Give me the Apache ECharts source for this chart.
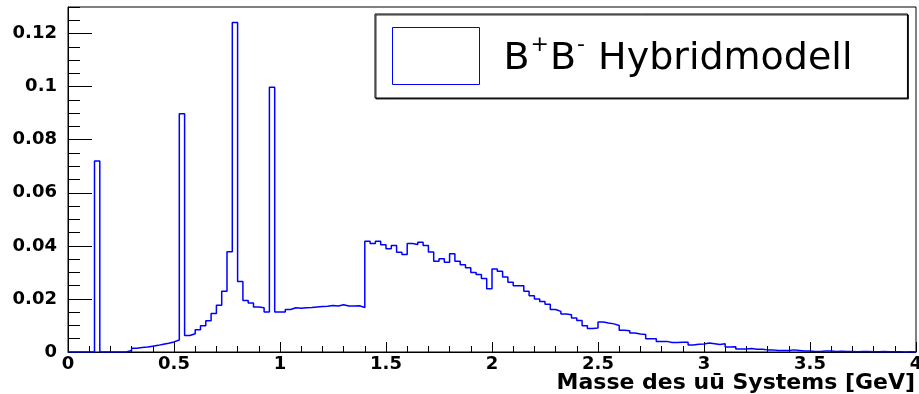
<!DOCTYPE html>
<html>
<head>
<meta charset="utf-8">
<script src="https://cdn.jsdelivr.net/npm/echarts@6/dist/echarts.min.js"></script>
<style>html,body{margin:0;padding:0;background:#fff}#c{width:919px;height:394px}</style>
</head>
<body>
<div id="c"></div>
<script>
// Histogram: 160 bins of width 0.025 GeV from 0 to 4
const binLow = 0;
const binWidth = 0.025;
const counts = [
  0, 0, 0, 0, 0, 0.072, 0, 0, 0, 0,
  0, 0.0006, 0.0014, 0.0017, 0.0019, 0.0022, 0.0025, 0.0029, 0.0033, 0.0038,
  0.0045, 0.0898, 0.0062, 0.0069, 0.0084, 0.0099, 0.0118, 0.0145, 0.0176, 0.0229,
  0.0378, 0.1242, 0.0266, 0.0194, 0.0185, 0.0170, 0.0167, 0.0151, 0.0998, 0.0151,
  0.0151, 0.0160, 0.0167, 0.0165, 0.0167, 0.0168, 0.0170, 0.0171, 0.0172, 0.0175,
  0.0173, 0.0178, 0.0173, 0.0173, 0.0174, 0.0168, 0.0417, 0.0409, 0.0417, 0.0404,
  0.0389, 0.0401, 0.0376, 0.0367, 0.0409, 0.0405, 0.0414, 0.0401, 0.0377, 0.0342,
  0.0351, 0.0338, 0.0370, 0.0342, 0.0329, 0.0317, 0.0300, 0.0292, 0.0277, 0.0238,
  0.0313, 0.0304, 0.0283, 0.0263, 0.0250, 0.0250, 0.0229, 0.0212, 0.0200, 0.0190,
  0.0180, 0.0160, 0.0153, 0.0143, 0.0140, 0.0128, 0.0119, 0.0099, 0.0089, 0.0090,
  0.0113, 0.0109, 0.0106, 0.0100, 0.0082, 0.0080, 0.0072, 0.0068, 0.0066, 0.0050,
  0.0050, 0.0040, 0.0040, 0.0036, 0.0036, 0.0037, 0.0037, 0.0026, 0.0029, 0.0030,
  0.0034, 0.0031, 0.0028, 0.0031, 0.0019, 0.0020, 0.0011, 0.0011, 0.0013, 0.0010,
  0.0010, 0.0008, 0.0008, 0.0006, 0.0006, 0.0006, 0.0008, 0.0006, 0.0004, 0.0004,
  0.0002, 0.0002, 0.0004, 0.0004, 0.0002, 0.0003, 0.0002, 0.0002, 0.0001, 0.0002,
  0.0002, 0.0001, 0.0001, 0.0002, 0.0001, 0.0001, 0.0001, 0, 0.0001, 0
];
const seriesName = 'B+B- Hybridmodell';
const xTitle = 'Masse des u\u016B Systems [GeV]';

const stepData = counts.map((v, i) => [binLow + i * binWidth, v]);
stepData.push([binLow + counts.length * binWidth, counts[counts.length - 1]]);

const boldFont = 'DejaVu Sans';
const chart = echarts.init(document.getElementById('c'), null, {renderer: 'canvas'});
chart.setOption({
  animation: false,
  backgroundColor: '#fff',
  grid: {left: 68, right: 3, top: 7, bottom: 42, containLabel: false, outerBoundsMode: 'none',
         show: true, borderColor: '#000', borderWidth: 1, backgroundColor: 'transparent'},
  legend: {
    show: true,
    left: 375, right: 12, top: 14,
    orient: 'horizontal',
    align: 'left',
    padding: [13, 55, 13, 17],
    itemWidth: 87, itemHeight: 57,
    icon: 'rect',
    backgroundColor: '#fff',
    borderColor: '#000', borderWidth: 1,
    shadowColor: 'rgba(0,0,0,0.8)', shadowOffsetX: 1, shadowOffsetY: 1, shadowBlur: 0,
    itemStyle: {color: '#fff', borderColor: '#0000ff', borderWidth: 1},
    lineStyle: {width: 0, opacity: 0},
    formatter: function () { return '{b|B}{s|+}{b|B}{s|-}{b| Hybridmodell}'; },
    textStyle: {
      fontFamily: 'DejaVu Sans', fontSize: 38, color: '#000', padding: [0, 0, 0, 19],
      rich: {
        b: {fontFamily: 'DejaVu Sans', fontSize: 38, color: '#000', lineHeight: 44, verticalAlign: 'bottom'},
        s: {fontFamily: 'DejaVu Sans', fontSize: 22, color: '#000', lineHeight: 44, verticalAlign: 'top', padding: [0, 1, 0, 1]}
      }
    },
    data: [seriesName]
  },
  xAxis: {
    type: 'value', min: 0, max: 4, interval: 0.5,
    name: xTitle, nameLocation: 'end', nameGap: -1, nameMoveOverlap: false,
    nameTextStyle: {fontFamily: boldFont, fontWeight: 'bold', fontSize: 22, color: '#000', align: 'right', verticalAlign: 'top', padding: [20, 0, 0, 0]},
    axisLine: {show: true, lineStyle: {color: '#000', width: 1}},
    axisTick: {show: true, inside: true, length: 10, lineStyle: {color: '#000'}},
    minorTick: {show: true, splitNumber: 5, length: 6, lineStyle: {color: '#000'}},
    splitLine: {show: false},
    axisLabel: {fontFamily: boldFont, fontWeight: 'bold', fontSize: 18, color: '#000', margin: 3, showMaxLabel: true}
  },
  yAxis: [{
    type: 'value', min: 0, max: 0.13, interval: 0.02,
    axisLine: {show: true, lineStyle: {color: '#000', width: 1}},
    axisTick: {show: true, inside: true, length: 24, lineStyle: {color: '#000'}},
    splitLine: {show: false},
    axisLabel: {fontFamily: boldFont, fontWeight: 'bold', fontSize: 18, color: '#000', margin: 11, showMaxLabel: false}
  }, {
    type: 'value', min: 0, max: 0.13, interval: 0.005, position: 'left',
    axisLine: {show: false},
    axisTick: {show: true, inside: true, length: 12, lineStyle: {color: '#000'}},
    splitLine: {show: false},
    axisLabel: {show: false}
  }],
  series: [{
    name: seriesName,
    type: 'line',
    step: 'end',
    data: stepData,
    showSymbol: false,
    symbol: 'none',
    itemStyle: {color: '#0000ff'},
    lineStyle: {color: '#0000ff', width: 1.5},
    clip: true
  }]
});
</script>
</body>
</html>
